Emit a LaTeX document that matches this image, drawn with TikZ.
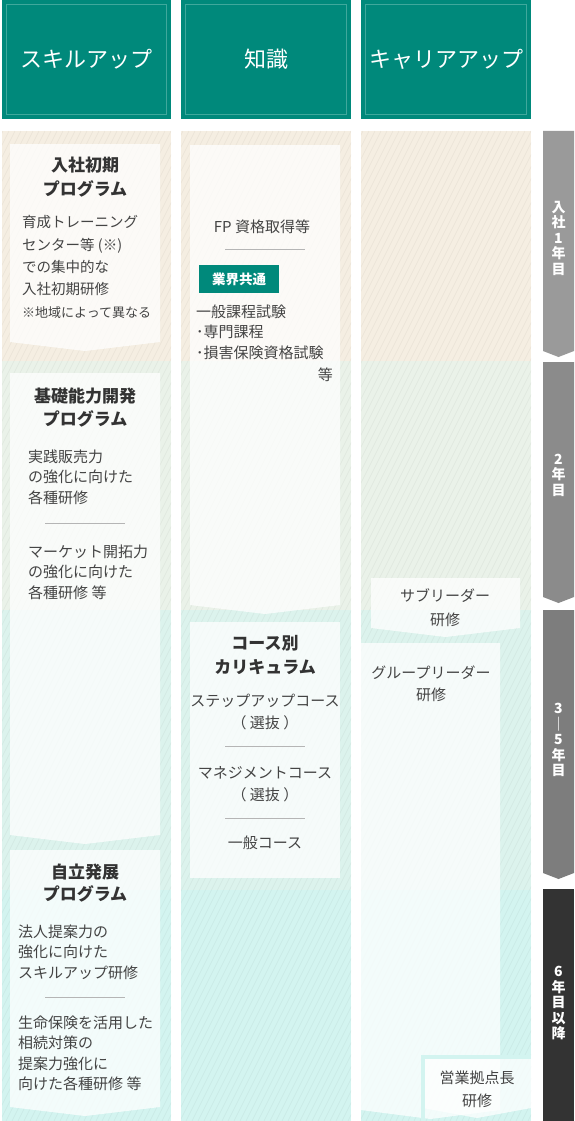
\documentclass[tikz,border=0pt]{standalone}
\usepackage{fontspec}
\setmainfont{Noto Sans CJK JP}

\definecolor{teal0}{HTML}{00897B}
\definecolor{tealline}{HTML}{3FA89C}
\definecolor{bandA}{HTML}{F5EEE2}
\definecolor{bandB}{HTML}{EAF2E9}
\definecolor{bandC}{HTML}{DCF3ED}
\definecolor{bandD}{HTML}{D3F4F0}
\definecolor{bodygray}{HTML}{444444}
\definecolor{titlegray}{HTML}{333333}
\definecolor{sepgray}{HTML}{B5B5B5}
\definecolor{barA}{HTML}{9A9A9A}
\definecolor{barB}{HTML}{8B8B8B}
\definecolor{barC}{HTML}{7D7D7D}
\definecolor{barD}{HTML}{333333}

\tikzset{
  card/.style={fill=white, fill opacity=0.75},
  hatch/.style={draw=black, draw opacity=0.05, line width=0.5pt},
  sepline/.style={draw=sepgray, line width=0.8pt},
  headtext/.style={text=white, inner sep=0pt, font=\fontsize{22}{24}\selectfont},
  cardtitle/.style={text=titlegray, align=center, inner sep=0pt, font=\bfseries\fontsize{17}{23}\selectfont},
  cardtext/.style={text=bodygray, align=left, anchor=north west, inner sep=0pt, font=\fontsize{15}{20.5}\selectfont},
  itemtext/.style={text=bodygray, align=center, inner sep=0pt, font=\fontsize{15}{22}\selectfont},
  tagbox/.style={fill=teal0, text=white, minimum width=80pt, minimum height=28pt, inner sep=0pt, font=\bfseries\fontsize{13.5}{16}\selectfont},
  yeartext/.style={text=white, align=center, inner sep=0pt, font=\bfseries\fontsize{14}{15.5}\selectfont}
}

% card with a downward notch at the bottom
\newcommand{\arrowcard}[4]{\fill[card] (#1,#2) -- (#3,#2) -- (#3,#4) -- ({(#1+#3)/2},{#4+9}) -- (#1,#4) -- cycle;}
% year bar segment
\newcommand{\yearbar}[3]{\fill[#3] (543,#1) -- (574,#1) -- (574,#2) -- (558.5,{#2+6}) -- (543,#2) -- cycle;}

\begin{document}
\begin{tikzpicture}[x=1pt,y=-1pt]
\useasboundingbox (0,0) rectangle (574,1121);

% period bands
\foreach \ya/\yb/\bandcol in {131/361/bandA, 361/610/bandB, 610/890/bandC, 890/1121/bandD}
  \foreach \xa/\xb in {2/171, 181/351, 361/531}
    \fill[\bandcol] (\xa,\ya) rectangle (\xb,\yb);

\begin{scope}
\clip (2,131) rectangle (171,1121) (181,131) rectangle (351,1121) (361,131) rectangle (531,1121);
\foreach \k in {-83,...,89}
  \draw[hatch] ({6*\k},1121) -- ({6*\k+495},131);
\end{scope}

% headers
\foreach \xa/\xb in {2/171, 181/351, 361/531}{
  \fill[teal0] (\xa,0) rectangle (\xb,119);
  \draw[tealline, line width=0.8pt] ({\xa+4.5},4.5) rectangle ({\xb-4.5},114.5);
}
\node[headtext] (hdskill) at (86.5,59) {スキルアップ};
\node[headtext] (hdchishiki) at (266,59) {知識};
\node[headtext] (hdcareer) at (446,59) {キャリアアップ};

% skill up column
\arrowcard{10}{144}{160}{342}
\arrowcard{10}{373}{160}{835}
\arrowcard{10}{850}{160}{1107}
\node[cardtitle, font=\bfseries\fontsize{17}{24}\selectfont] (ttlnyusha) at (85,177) {入社初期\\プログラム};
\node[cardtext, font=\fontsize{14.5}{22.3}\selectfont] (txtnyusha) at (22,215.5)
  {育成トレーニング\\センター等 (※)\\での集中的な\\入社初期研修\\{\fontsize{13}{22.3}\selectfont ※地域によって異なる}};
\node[cardtitle] (ttlkiso) at (85,407.5) {基礎能力開発\\プログラム};
\node[cardtext] (txtkiso1) at (28,449.5) {実践販売力\\の強化に向けた\\各種研修};
\draw[sepline] (45,523) -- (125,523);
\node[cardtext] (txtkiso2) at (28,544.5) {マーケット開拓力\\の強化に向けた\\各種研修 等};
\node[cardtitle, font=\bfseries\fontsize{17}{22}\selectfont] (ttljiritsu) at (85,883) {自立発展\\プログラム};
\node[cardtext] (txtjiritsu1) at (18,924.5) {法人提案力の\\強化に向けた\\スキルアップ研修};
\draw[sepline] (45,997) -- (125,997);
\node[cardtext] (txtjiritsu2) at (18,1015.5) {生命保険を活用した\\相続対策の\\提案力強化に\\向けた各種研修 等};

% knowledge column
\arrowcard{190}{145}{340}{605}
\fill[card] (190,622) rectangle (340,878);
\node[itemtext] (txtfp) at (262,227) {FP 資格取得等};
\draw[sepline] (225,249) -- (305,249);
\node[tagbox] (tagkyotsu) at (239,279) {業界共通};
\node[cardtext] (txtshiken) at (196,304.5) {一般課程試験\\･専門課程\\･損害保険資格試験};
\node[itemtext, anchor=east] (txtto) at (333,375) {等};
\node[cardtitle, font=\bfseries\fontsize{17}{24}\selectfont] (ttlcourse) at (265,655) {コース別\\カリキュラム};
\node[itemtext] (txtstep) at (265,712) {ステップアップコース\\（ 選抜 ）};
\draw[sepline] (225,746) -- (305,746);
\node[itemtext] (txtmanage) at (265,784) {マネジメントコース\\（ 選抜 ）};
\draw[sepline] (225,818) -- (305,818);
\node[itemtext] (txtippan) at (265,843) {一般コース};

% career up column
\arrowcard{371}{578}{520}{628}
\fill[card] (361,643) -- (500,643) -- (500,1110) -- (430.5,1119) -- (361,1110) -- cycle;
\begin{scope}
\clip (361,131) rectangle (531,1121);
\fill[card] (423,1057) -- (531,1057) -- (531,1108) -- (477,1118) -- (423,1108) -- cycle;
\draw[bandD, line width=4pt] (423,1121) -- (423,1057) -- (531,1057);
\end{scope}
\node[itemtext, font=\fontsize{15}{24}\selectfont] (txtsub) at (445,608) {サブリーダー\\研修};
\node[itemtext] (txtgroup) at (431,684) {グループリーダー\\研修};
\node[itemtext, font=\fontsize{15}{23}\selectfont] (txtkyoten) at (477,1089.5) {営業拠点長\\研修};

% year bar
\yearbar{131}{351}{barA}
\yearbar{362}{597}{barB}
\yearbar{610}{873}{barC}
\fill[barD] (543,889) rectangle (574,1121);
\node[yeartext] (yr1) at (558.5,238) {入\\社\\1\\年\\目};
\node[yeartext] (yr2) at (558.5,475) {2\\年\\目};
\node[yeartext] (yr3) at (558.5,740) {3\\｜\\5\\年\\目};
\node[yeartext] (yr6) at (558.5,1003) {6\\年\\目\\以\\降};
\end{tikzpicture}
\end{document}
